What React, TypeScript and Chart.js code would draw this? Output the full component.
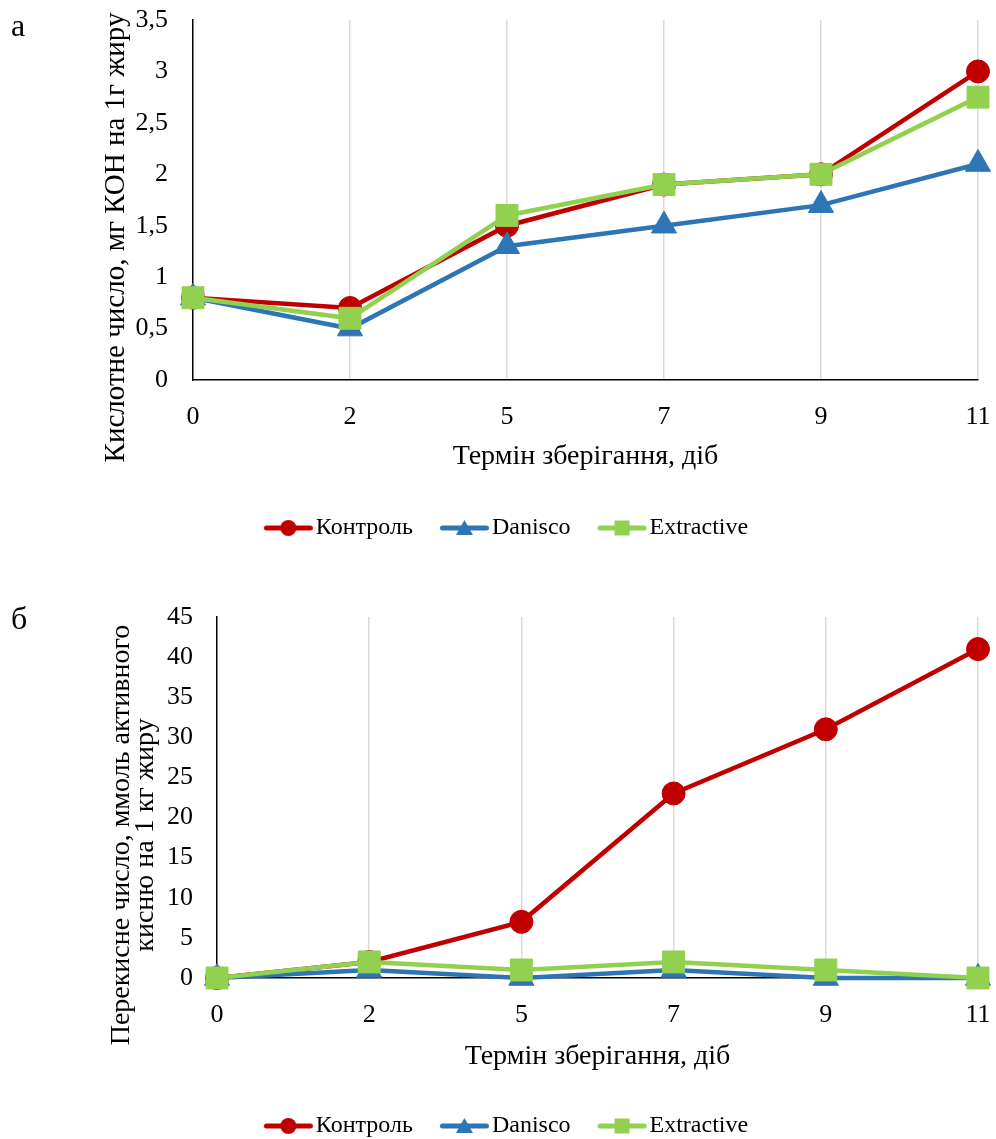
import React, { useEffect, useRef } from 'react';
import { Chart, registerables } from 'chart.js';

Chart.register(...registerables);

const FONT = "'Liberation Serif', 'Times New Roman', Times, serif";
Chart.defaults.font.family = FONT;
Chart.defaults.color = '#000';

// ---- data ----
const days = ['0', '2', '5', '7', '9', '11'];
const seriesNames = ['Контроль', 'Danisco', 'Extractive'];

const acidControl = [0.8, 0.7, 1.5, 1.9, 2.0, 3.0];
const acidDanisco = [0.8, 0.5, 1.3, 1.5, 1.7, 2.1];
const acidExtractive = [0.8, 0.6, 1.6, 1.9, 2.0, 2.75];

const peroxControl = [0, 2, 7, 23, 31, 41];
const peroxDanisco = [0, 1, 0, 1, 0, 0];
const peroxExtractive = [0, 2, 1, 2, 1, 0];

const xTitle = 'Термін зберігання, діб';
const acidTitle = ['Кислотне число, мг КОН на 1г жиру'];
const peroxTitle = ['Перекисне число, ммоль активного', 'кисню на 1 кг жиру'];

// ---- styles ----
const seriesColors = ['#C00000', '#2E75B6', '#92D050'];
const seriesMarkers = ['circle', 'triangle', 'rect'];
const seriesRadii = [11.5, 14.5, 15.5];

function makeIcon(color: string, marker: string): HTMLCanvasElement {
  const c = document.createElement('canvas');
  c.width = 140;
  c.height = 24;
  const ctx = c.getContext('2d')!;
  ctx.strokeStyle = color;
  ctx.fillStyle = color;
  ctx.lineWidth = 5;
  ctx.lineCap = 'round';
  ctx.beginPath();
  ctx.moveTo(52.5, 12);
  ctx.lineTo(96.5, 12);
  ctx.stroke();
  const cx = 74.5;
  const cy = 12;
  ctx.beginPath();
  if (marker === 'circle') {
    ctx.arc(cx, cy, 8, 0, Math.PI * 2);
  } else if (marker === 'triangle') {
    ctx.moveTo(cx, cy - 8);
    ctx.lineTo(cx + 8.5, cy + 7);
    ctx.lineTo(cx - 8.5, cy + 7);
    ctx.closePath();
  } else {
    ctx.rect(cx - 7.5, cy - 7.5, 15, 15);
  }
  ctx.fill();
  return c;
}

// draws the rotated y-axis title (Excel centres it a bit below the plot centre)
const axisTitlePlugin = {
  id: 'axisTitle',
  afterDraw(chart: any, _args: any, opts: any) {
    const { ctx, chartArea } = chart;
    ctx.save();
    ctx.font = `${opts.size}px ${FONT}`;
    ctx.fillStyle = '#000';
    ctx.textAlign = 'center';
    ctx.textBaseline = 'middle';
    const cy = (chartArea.top + chartArea.bottom) / 2 + opts.shift;
    (opts.lines as string[]).forEach((t, i) => {
      ctx.save();
      ctx.translate(opts.x + i * opts.lineGap, cy);
      ctx.rotate(-Math.PI / 2);
      ctx.fillText(t, 0, 0);
      ctx.restore();
    });
    ctx.restore();
  },
};

function makeDatasets(values: number[][]) {
  return values.map((v, i) => ({
    label: seriesNames[i],
    data: v,
    borderColor: seriesColors[i],
    backgroundColor: seriesColors[i],
    borderWidth: 4.5,
    pointStyle: seriesMarkers[i],
    pointRadius: seriesRadii[i],
    pointHoverRadius: seriesRadii[i],
    pointBackgroundColor: seriesColors[i],
    pointBorderColor: seriesColors[i],
    pointBorderWidth: 1,
    tension: 0,
    clip: false,
    order: 2 - i,
  }));
}

interface Cfg {
  values: number[][];
  yMax: number;
  yStep: number;
  yTitle: string[];
  yTitleX: number;
  yTitleGap: number;
  yTitleSize: number;
  yWidth: number;
  yTickPad: number;
  xHeight: number;
  xTitlePadBottom: number;
  padTop: number;
  padBottom: number;
}

function makeConfig(c: Cfg, icons: HTMLCanvasElement[]): any {
  return {
    type: 'line',
    data: { labels: days, datasets: makeDatasets(c.values) },
    plugins: [axisTitlePlugin],
    options: {
      animation: false,
      responsive: false,
      maintainAspectRatio: false,
      events: [],
      layout: { padding: { left: 34, right: 18, top: c.padTop, bottom: c.padBottom } },
      plugins: {
        tooltip: { enabled: false },
        axisTitle: { lines: c.yTitle, x: c.yTitleX, lineGap: c.yTitleGap, size: c.yTitleSize, shift: 37.5 },
        legend: {
          position: 'bottom',
          labels: {
            usePointStyle: true,
            pointStyleWidth: 40,
            padding: 27,
            color: '#000',
            font: { size: 24 },
            sort: (a: any, b: any) => a.datasetIndex - b.datasetIndex,
            generateLabels: (chart: any) => {
              const items = (Chart.defaults.plugins.legend.labels as any).generateLabels(chart);
              items.forEach((it: any) => {
                it.pointStyle = icons[it.datasetIndex];
              });
              return items;
            },
          },
        },
      },
      scales: {
        x: {
          offset: false,
          grid: {
            display: true,
            drawTicks: false,
            lineWidth: 1.5,
            color: (ctx: any) => (ctx.index === 0 ? 'rgba(0,0,0,0)' : '#D9D9D9'),
          },
          border: { display: true, color: '#000', width: 1.5 },
          ticks: { font: { size: 26 }, padding: 22, color: '#000', autoSkip: false, maxRotation: 0 },
          title: {
            display: true,
            text: xTitle,
            color: '#000',
            font: { size: 28 },
            padding: { top: 0, bottom: c.xTitlePadBottom },
          },
          afterFit: (s: any) => {
            s.height = c.xHeight;
            s.paddingLeft = 0;
            s.paddingRight = 0;
          },
        },
        y: {
          min: 0,
          max: c.yMax,
          grid: { display: false, drawTicks: false },
          border: { display: true, color: '#000', width: 1.5 },
          ticks: {
            stepSize: c.yStep,
            padding: c.yTickPad,
            color: '#000',
            font: { size: 26 },
            callback: (v: any) => String(v).replace('.', ','),
          },
          title: { display: false },
          afterFit: (s: any) => {
            s.width = c.yWidth;
            s.paddingTop = 0;
            s.paddingBottom = 0;
          },
        },
      },
    },
  };
}

const panelLabel = (top: number): React.CSSProperties => ({
  position: 'absolute',
  left: 11,
  top,
  fontFamily: FONT,
  fontSize: 32,
  lineHeight: '32px',
  color: '#000',
  zIndex: 2,
});

export default function App() {
  const refA = useRef<HTMLCanvasElement>(null);
  const refB = useRef<HTMLCanvasElement>(null);

  useEffect(() => {
    const icons = seriesColors.map((col, i) => makeIcon(col, seriesMarkers[i]));
    const a = new Chart(
      refA.current!,
      makeConfig(
        {
          values: [acidControl, acidDanisco, acidExtractive],
          yMax: 3.5,
          yStep: 0.5,
          yTitle: acidTitle,
          yTitleX: 116,
          yTitleGap: 0,
          yTitleSize: 29,
          yWidth: 159,
          yTickPad: 25,
          xHeight: 109,
          xTitlePadBottom: 16,
          padTop: 20,
          padBottom: 10,
        },
        icons
      )
    );
    const b = new Chart(
      refB.current!,
      makeConfig(
        {
          values: [peroxControl, peroxDanisco, peroxExtractive],
          yMax: 45,
          yStep: 5,
          yTitle: peroxTitle,
          yTitleX: 122,
          yTitleGap: 24,
          yTitleSize: 28,
          yWidth: 183,
          yTickPad: 24,
          xHeight: 109,
          xTitlePadBottom: 14,
          padTop: 57,
          padBottom: 12,
        },
        icons
      )
    );
    return () => {
      a.destroy();
      b.destroy();
    };
  }, []);

  return (
    <div
      style={{
        position: 'absolute',
        left: 0,
        top: 0,
        width: 996,
        height: 1139,
        overflow: 'hidden',
        background: '#fff',
      }}
    >
      <canvas
        ref={refA}
        width={996}
        height={560}
        style={{ position: 'absolute', left: 0, top: 0, width: 996, height: 560 }}
      />
      <canvas
        ref={refB}
        width={996}
        height={600}
        style={{ position: 'absolute', left: 0, top: 560, width: 996, height: 600 }}
      />
      <div style={panelLabel(9)}>а</div>
      <div style={panelLabel(602)}>б</div>
    </div>
  );
}
